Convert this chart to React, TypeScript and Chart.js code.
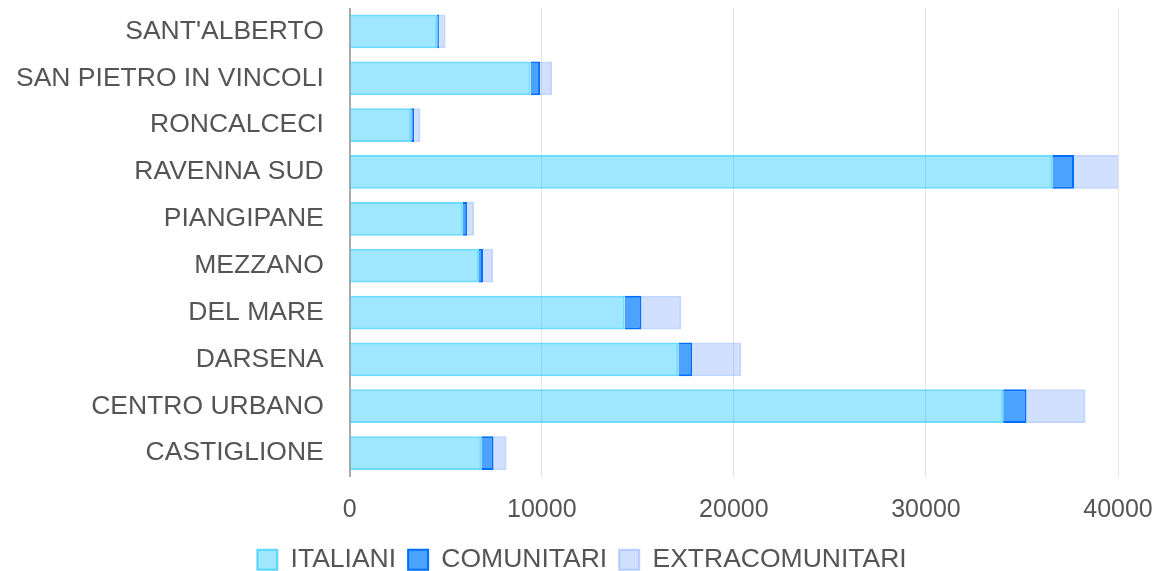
import React, { useEffect, useRef } from "react";
import { Chart, registerables } from "chart.js";

Chart.register(...registerables);

const categories = [
  "SANT'ALBERTO",
  "SAN PIETRO IN VINCOLI",
  "RONCALCECI",
  "RAVENNA SUD",
  "PIANGIPANE",
  "MEZZANO",
  "DEL MARE",
  "DARSENA",
  "CENTRO URBANO",
  "CASTIGLIONE",
];

const italiani = [4550, 9420, 3200, 36580, 5890, 6730, 14320, 17110, 34020, 6850];
const comunitari = [110, 490, 150, 1130, 230, 210, 870, 730, 1220, 640];
const extracomunitari = [330, 620, 330, 2610, 350, 520, 2070, 2540, 3070, 670];

const seriesNames = ["ITALIANI", "COMUNITARI", "EXTRACOMUNITARI"];

const legendAdjust = {
  id: "legendAdjust",
  beforeLayout(chart: any) {
    const lg = chart.legend;
    if (lg && !lg._patched) {
      lg._patched = true;
      const origFit = lg.fit;
      lg.fit = function (...args: any[]) {
        const r = origFit.apply(lg, args);
        lg.height -= 21;
        return r;
      };
    }
  },
  afterLayout(chart: any) {
    const lg = chart.legend;
    if (lg) {
      lg.top -= 9;
      lg.bottom = chart.height;
      lg.height = lg.bottom - lg.top;
    }
  },
};

export default function App() {
  const ref = useRef<HTMLCanvasElement | null>(null);

  useEffect(() => {
    document.body.style.overflow = "hidden";
    const canvas = ref.current;
    if (!canvas) return;
    const family = "'Liberation Sans', Arial, sans-serif";
    const chart = new Chart(canvas, {
      type: "bar",
      data: {
        labels: categories,
        datasets: [
          {
            label: seriesNames[0],
            data: italiani,
            backgroundColor: "rgba(0,191,255,0.38)",
            borderColor: "rgba(0,191,255,0.57)",
            borderWidth: 2,
          },
          {
            label: seriesNames[1],
            data: comunitari,
            backgroundColor: "rgba(0,123,255,0.7)",
            borderColor: "rgba(0,110,255,1)",
            borderWidth: 2,
          },
          {
            label: seriesNames[2],
            data: extracomunitari,
            backgroundColor: "rgba(102,153,255,0.3)",
            borderColor: "rgba(102,153,255,0.4)",
            borderWidth: 2,
          },
        ],
      },
      plugins: [legendAdjust],
      options: {
        indexAxis: "y",
        animation: false,
        responsive: false,
        maintainAspectRatio: false,
        layout: { padding: { left: 4, top: 0, right: 0, bottom: 0 } },
        plugins: {
          legend: {
            position: "bottom",
            labels: {
              font: { family, size: 26.5 },
              color: "#555",
              boxWidth: 20,
              boxHeight: 20,
              padding: 12,
            },
          },
          tooltip: { enabled: false },
        },
        scales: {
          x: {
            stacked: true,
            min: 0,
            max: 40000,
            ticks: {
              stepSize: 10000,
              font: { family, size: 25 },
              color: "#555",
              padding: 18.5,
              callback: (v: any) => String(v),
            },
            grid: { color: "rgba(0,0,0,0.1)", drawTicks: false, lineWidth: 1 },
            border: { display: false },
            afterFit: (scale: any) => {
              scale.paddingLeft = 0;
              scale.paddingRight = 34;
            },
          },
          y: {
            stacked: true,
            ticks: { font: { family, size: 26.5 }, color: "#555", padding: 4 },
            grid: { display: false, drawTicks: true, tickLength: 22 },
            border: { display: true, color: "#aaa", width: 2 },
            afterFit: (scale: any) => {
              scale.paddingTop = 0;
              scale.paddingBottom = 0;
            },
          },
        },
      },
    });
    return () => chart.destroy();
  }, []);

  return (
    <div style={{ width: 1144, height: 563 }}>
      <canvas ref={ref} width={1144} height={563} style={{ width: 1144, height: 563 }} />
    </div>
  );
}
